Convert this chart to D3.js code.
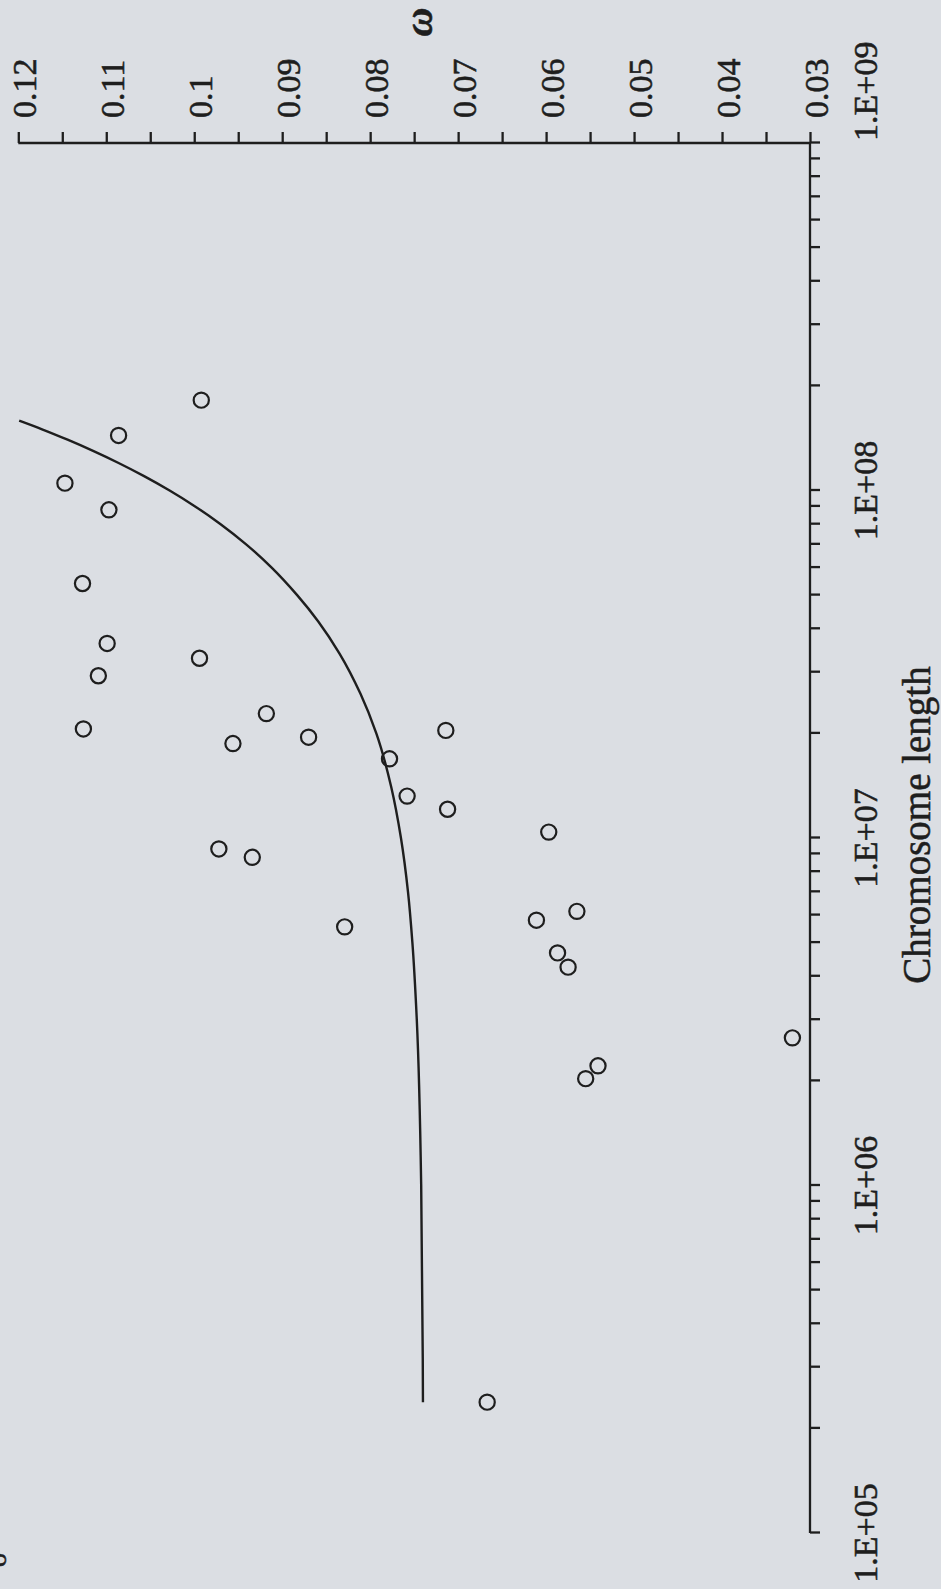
<!DOCTYPE html>
<html>
<head>
<meta charset="utf-8">
<script src="https://cdn.jsdelivr.net/npm/d3@7"></script>
<style>
  html, body { margin: 0; padding: 0; background: #dbdee3; }
  svg { display: block; }
</style>
</head>
<body>
<svg id="chart" width="941" height="1589"></svg>
<script>
// Observed chromosomes: length (bp) and omega
const chromLength = [1.82e8, 1.44e8, 1.05e8, 8.8e7, 5.4e7, 3.63e7, 3.29e7, 2.93e7,
  2.28e7, 1.87e7, 1.95e7, 2.04e7, 1.69e7, 1.32e7, 1.21e7, 1.04e7, 9.3e6, 8.8e6,
  5.55e6, 5.8e6, 6.15e6, 4.67e6, 4.25e6, 2.66e6, 2.21e6, 2.03e6, 2.38e5, 2.06e7];
const omega = [0.0992, 0.1086, 0.1147, 0.1097, 0.1127, 0.1099, 0.0994, 0.1109,
  0.0918, 0.0956, 0.0870, 0.0714, 0.0778, 0.0758, 0.0712, 0.0597, 0.0972, 0.0934,
  0.0829, 0.0611, 0.0565, 0.0587, 0.0575, 0.0320, 0.0541, 0.0555, 0.0667, 0.1126];

// Model curve
const fitLength = [2.38e5, 1.0e6, 3.0e6, 5.0e6, 7.0e6, 1.0e7, 1.4e7, 2.0e7, 2.6e7,
  3.4e7, 4.2e7, 5.0e7, 6.0e7, 7.0e7, 8.0e7, 9.0e7, 1.0e8, 1.1e8, 1.2e8, 1.3e8,
  1.4e8, 1.5e8, 1.588e8];
const fitOmega = [0.0740, 0.0742, 0.0747, 0.0752, 0.0757, 0.0765, 0.0776, 0.0793,
  0.0811, 0.0835, 0.0859, 0.0883, 0.0912, 0.0941, 0.0970, 0.0999, 0.1028, 0.1057,
  0.1086, 0.1115, 0.1144, 0.1173, 0.1199];

// Axis ticks
const lengthTicks = [1e5, 1e6, 1e7, 1e8, 1e9];
const lengthTickLabels = ["1.E+05", "1.E+06", "1.E+07", "1.E+08", "1.E+09"];
const omegaTicks = [0.03, 0.04, 0.05, 0.06, 0.07, 0.08, 0.09, 0.1, 0.11, 0.12];
const omegaTickLabels = ["0.03", "0.04", "0.05", "0.06", "0.07", "0.08", "0.09", "0.1", "0.11", "0.12"];

const W = 941, H = 1589;
const ink = "#1e1e1e";
const serif = "'Liberation Serif', Tinos, 'Times New Roman', Times, 'DejaVu Serif', serif";

const svg = d3.select("#chart")
  .attr("font-family", serif)
  .style("font-family", serif);

// The whole figure is laid out landscape and turned a quarter turn counter-clockwise
const g = svg.append("g").attr("transform", `translate(0,${H}) rotate(-90)`);

const x = d3.scaleLog().domain([1e5, 1e9]).range([56, 1446]);
const y = d3.scaleLinear().domain([0.03, 0.12]).range([810, 18.3]);

// printed text is slightly heavy, so give glyphs a thin outline
function inked(sel) {
  return sel.attr("fill", ink).attr("stroke", ink).attr("stroke-width", 0.55);
}

// minor ticks for the log axis: 2..9 per decade
const minorLen = [];
for (let e = 5; e < 9; e++) for (let m = 2; m <= 9; m++) minorLen.push(m * Math.pow(10, e));

// x axis (chromosome length) along the bottom
const xAxisG = g.append("g").attr("transform", `translate(0,${y(0.03)})`);
xAxisG.call(d3.axisBottom(x).tickValues(lengthTicks.concat(minorLen)).tickSize(10).tickFormat(() => ""));
xAxisG.select(".domain").attr("d", `M${x(1e5)},0H${x(1e9)}`);
xAxisG.selectAll("path, line").attr("stroke", ink).attr("stroke-width", 2.3);
xAxisG.selectAll(".tick text").remove();
xAxisG.selectAll(".lenLabel")
  .data(lengthTicks)
  .join("text")
  .attr("class", "lenLabel")
  .attr("x", d => d === 1e9 ? x(d) + 2 : x(d))
  .attr("y", 67)
  .attr("text-anchor", d => d === 1e9 ? "start" : "middle")
  .attr("font-family", serif)
  .attr("font-size", 34)
  .call(inked)
  .text((d, i) => lengthTickLabels[i]);

// y axis (omega) on the right-hand side
const minorOmega = d3.range(0.035, 0.12, 0.01);
const yAxisG = g.append("g").attr("transform", `translate(${x(1e9)},0)`);
yAxisG.call(d3.axisRight(y).tickValues(omegaTicks.concat(minorOmega)).tickSize(11).tickFormat(() => ""));
yAxisG.select(".domain").attr("d", `M0,${y(0.03)}V${y(0.12)}`);
yAxisG.selectAll("path, line").attr("stroke", ink).attr("stroke-width", 2.3);
yAxisG.selectAll(".tick text").remove();
yAxisG.selectAll(".omLabel")
  .data(omegaTicks)
  .join("text")
  .attr("class", "omLabel")
  .attr("x", 25)
  .attr("y", d => y(d) + 17.5)
  .attr("text-anchor", "start")
  .attr("font-family", serif)
  .attr("font-size", 34)
  .call(inked)
  .text((d, i) => omegaTickLabels[i]);

// axis titles
g.append("text")
  .attr("x", 764).attr("y", 930)
  .attr("text-anchor", "middle")
  .attr("font-family", serif)
  .attr("font-size", 39)
  .call(inked)
  .text("Chromosome length");

g.append("text")
  .attr("x", 1567).attr("y", 432)
  .attr("text-anchor", "middle")
  .attr("font-family", serif)
  .attr("font-size", 40)
  .attr("font-weight", "bold")
  .attr("font-style", "italic")
  .call(inked)
  .text("ω");

// fitted curve
const line = d3.line()
  .x((d, i) => x(fitLength[i]))
  .y((d, i) => y(fitOmega[i]))
  .curve(d3.curveMonotoneX);
g.append("path")
  .datum(fitLength)
  .attr("d", line)
  .attr("fill", "none")
  .attr("stroke", ink)
  .attr("stroke-width", 2.4);

// observed points
g.selectAll(".pt")
  .data(chromLength)
  .join("circle")
  .attr("class", "pt")
  .attr("cx", d => x(d))
  .attr("cy", (d, i) => y(omega[i]))
  .attr("r", 7.6)
  .attr("fill", "none")
  .attr("stroke", ink)
  .attr("stroke-width", 2.2);

// stray glyph at the page margin
g.append("text")
  .attr("x", 29).attr("y", 6)
  .attr("text-anchor", "middle")
  .attr("font-family", serif)
  .attr("font-size", 28)
  .call(inked)
  .text("o");
</script>
</body>
</html>
